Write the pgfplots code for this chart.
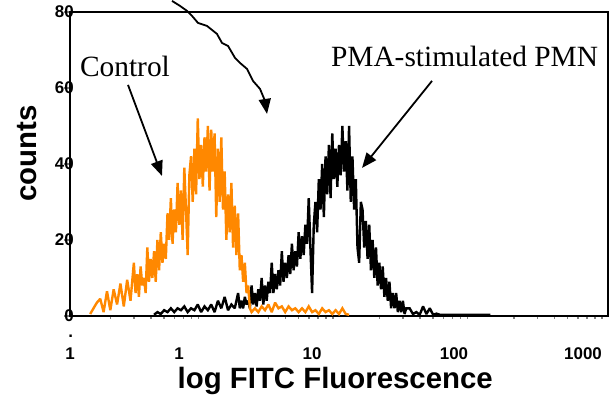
\documentclass[border=0pt]{standalone}
\usepackage{fontspec}
\setmainfont{Liberation Serif}
\setsansfont{Liberation Sans}
\usepackage{pgfplots}
\pgfplotsset{compat=1.18}
\usetikzlibrary{arrows.meta}
\definecolor{cyto}{RGB}{255,136,0}
\begin{document}
\begin{tikzpicture}
\begin{axis}[
  scale only axis, width=538bp, height=304bp,
  xmode=log, xmin=0.1, xmax=1000, ymin=0, ymax=80,
  clip=false,
  axis line style={line width=2.2bp},
  tick align=outside, xtick pos=bottom, ytick pos=left,
  xtick={0.1,0.646,6.30,71.6,652},
  xticklabels={{\makebox[0pt][l]{\hspace{3bp}\raisebox{22bp}{.}}1},1,10,100,1000},
  major x tick style={draw=none},
  minor xtick={0.2,0.3,0.4,0.5,0.6,0.7,0.8,0.9,2,3,4,5,6,7,8,9,20,30,40,50,60,70,80,90,200,300,400,500,600,700,800,900},
  minor tick length=3bp,
  minor x tick style={line width=1.4bp},
  ytick={0,20,40,60,80},
  major tick length=6bp,
  y tick style={line width=1.4bp},
  /pgf/number format/assume math mode=true,
  xticklabel style={font=\sffamily\bfseries\fontsize{17}{20}\selectfont, anchor=base, yshift=-38bp},
  yticklabel style={font=\sffamily\bfseries\fontsize{17}{20}\selectfont, inner sep=0pt, xshift=10bp},
  xlabel={log FITC Fluorescence},
  ylabel={counts},
  every axis x label/.style={at={(rel axis cs:0.493,-0.214)}, anchor=center, font=\sffamily\bfseries\fontsize{29.5}{33}\selectfont},
  every axis y label/.style={at={(rel axis cs:-0.08,0.535)}, anchor=center, rotate=90, font=\sffamily\bfseries\fontsize{29.5}{33}\selectfont},
]
\path (rel axis cs:-0.1301,-0.2697) rectangle (rel axis cs:1.00929,1.0362);
% PMA-stimulated PMN
\addplot[black, line width=2.4bp, line join=miter, miter limit=2] coordinates {
(0.4217,0.3) (0.4467,1) (0.4732,0.5) (0.5012,1.5) (0.5309,1) (0.5623,2) (0.5957,1) (0.6310,2) (0.6683,1.5) (0.7079,2.5)
(0.7499,1) (0.7943,2) (0.8414,1.5) (0.8913,3) (0.9441,1) (1.0,2.5) (1.0593,1.5) (1.1220,3) (1.1885,1) (1.2589,4)
(1.3335,2) (1.4125,5) (1.4962,1.5) (1.5849,3) (1.6788,2)
(1.7783,6) (1.8302,2) (1.8836,4) (1.9386,2) (1.9953,5) (2.0536,3) (2.1135,4) (2.1752,2)
(2.2387,8) (2.3041,3) (2.3714,6) (2.4406,2.5) (2.5119,7) (2.5853,4) (2.6607,10) (2.7384,3)
(2.8184,8) (2.9007,4) (2.9854,9) (3.0726,6) (3.1623,14) (3.2546,6) (3.3497,11) (3.4475,7)
(3.5481,12) (3.6517,8) (3.7584,17) (3.8682,9) (3.9811,14) (4.0973,10) (4.2170,16) (4.3401,11)
(4.4668,19) (4.5972,12) (4.7315,17) (4.8696,13) (5.0119,22) (5.1582,15) (5.3088,21) (5.4638,16)
(5.6234,24) (5.7876,19) (5.9566,31) (6.1305,18) (6.3096,6) (6.4938,24) (6.6834,30) (6.8785,22)
(7.0795,36) (7.2862,28) (7.4989,40) (7.7179,26) (7.9433,42) (8.1752,32) (8.4140,45) (8.6596,31)
(8.9125,48) (9.1727,36) (9.4406,44) (9.7162,34) (10,45) (10.292,37) (10.593,50) (10.902,38)
(11.220,46) (11.548,33) (11.885,50) (12.232,30) (12.589,42) (12.957,28) (13.335,36) (13.724,18)
(14.125,14) (14.537,30) (14.962,28) (15.399,18) (15.849,25) (16.312,15) (16.788,24) (17.278,12)
(17.783,20) (18.302,10) (18.836,18) (19.386,8) (19.953,14) (20.536,7) (21.135,13) (21.752,5)
(22.387,10) (23.041,4) (23.714,9) (24.406,2) (25.119,6) (25.853,2) (26.607,6) (27.384,1)
(28.184,4) (29.007,1) (29.854,4) (30.726,0.5) (31.623,2) (33.497,2) (35.481,0.5) (37.584,1) (39.811,0.3)
(42.170,2.5) (44.668,0.5) (47.315,2) (50.119,0.3) (53.088,0.6) (56.234,0.3) (133.35,0.3)
};
% Control
\addplot[cyto, line width=2.4bp, line join=miter, miter limit=2] coordinates {
(0.1413,0.5) (0.1496,2) (0.1585,3.5) (0.1679,4.5) (0.1778,1) (0.1884,6.5) (0.1995,1.5) (0.2113,7) (0.2239,3) (0.2371,8.5)
(0.2512,2.5) (0.2661,9.5) (0.2818,4)
(0.2985,14) (0.3072,6) (0.3162,11) (0.3254,5) (0.3350,13) (0.3448,8) (0.3548,10) (0.3652,6)
(0.3758,18) (0.3868,9) (0.3981,15) (0.4097,10) (0.4217,17) (0.4340,9) (0.4467,20) (0.4597,12)
(0.4732,22) (0.4870,14) (0.5012,19) (0.5158,15) (0.5309,27) (0.5464,20) (0.5623,31) (0.5787,19)
(0.5957,28) (0.6131,22) (0.6310,35) (0.6494,24) (0.6683,33) (0.6878,20) (0.7079,39) (0.7286,28)
(0.7499,16) (0.7718,37) (0.7943,42) (0.8175,30) (0.8414,44) (0.8660,32) (0.8913,52) (0.9173,36)
(0.9441,45) (0.9717,34) (1.0,47) (1.0292,38) (1.0593,50) (1.0902,33) (1.1220,49) (1.1548,38)
(1.1885,48) (1.2232,26) (1.2589,44) (1.2957,30) (1.3335,47) (1.3724,28) (1.4125,38) (1.4537,20)
(1.4962,32) (1.5399,22) (1.5849,35) (1.6312,18) (1.6788,29) (1.7278,16) (1.7783,27) (1.8302,12)
(1.8836,16) (1.9386,9) (1.9953,14) (2.0536,6) (2.1135,8) (2.1752,2) (2.2387,1)
(2.3714,2) (2.5119,1) (2.6607,2.5) (2.8184,1.5) (2.9854,3) (3.1623,1) (3.3497,3.5) (3.5481,2) (3.7584,2.5) (3.9811,1)
(4.2170,2.5) (4.4668,1.5) (4.7315,2) (5.0119,1) (5.3088,2) (5.6234,1) (5.9566,2.5) (6.3096,1) (6.6834,1.5) (7.0795,0.5)
(7.4989,2) (7.9433,1) (8.4140,1.5) (8.9125,0.5) (9.4406,1.5) (10,0.5) (10.593,2) (11.220,0.5) (11.885,0.3)
};
% annotations
\node[font=\fontsize{29.5}{33}\selectfont] at (rel axis cs:0.1022,0.822) {Control};
\node[font=\fontsize{29.5}{33}\selectfont, anchor=east] at (rel axis cs:0.988,0.855) {PMA-stimulated PMN};
\draw[line width=1.8bp, -{Triangle[length=15bp,width=12bp]}] (rel axis cs:0.1078,0.760) -- (rel axis cs:0.171,0.4605);
\draw[line width=1.8bp, -{Triangle[length=15bp,width=12bp]}] (rel axis cs:0.6729,0.773) -- (rel axis cs:0.5428,0.4868);
\draw[line width=1.8bp, -{Triangle[length=15bp,width=12bp]}]
 (rel axis cs:0.1896,1.0362) -- (rel axis cs:0.2045,1.0197) -- (rel axis cs:0.2175,1.0033) -- (rel axis cs:0.2268,0.9868)
 -- (rel axis cs:0.2379,0.9638) -- (rel axis cs:0.2546,0.9539) -- (rel axis cs:0.2732,0.9276) -- (rel axis cs:0.2825,0.8980)
 -- (rel axis cs:0.2937,0.8882) -- (rel axis cs:0.3067,0.8487) -- (rel axis cs:0.3160,0.8322) -- (rel axis cs:0.3290,0.8125)
 -- (rel axis cs:0.3401,0.7730) -- (rel axis cs:0.3532,0.7467) -- (rel axis cs:0.3625,0.7072) -- (rel axis cs:0.3662,0.6645);
\end{axis}
\end{tikzpicture}
\end{document}
